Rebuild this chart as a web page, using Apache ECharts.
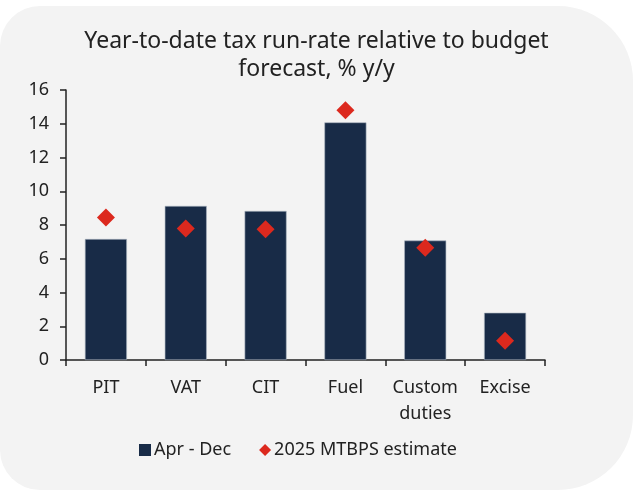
<!DOCTYPE html>
<html>
<head>
<meta charset="utf-8">
<script src="https://cdn.jsdelivr.net/npm/echarts@6/dist/echarts.min.js"></script>
<style>
  html, body { margin: 0; padding: 0; background: #fff; }
  #panel {
    position: absolute; left: 0; top: 6px; width: 633px; height: 484px;
    background: #f3f3f3; border-radius: 40px 75px 75px 40px;
  }
  #chart { position: absolute; left: 0; top: 0; width: 633px; height: 492px; }
</style>
</head>
<body>
<div id="panel"></div>
<div id="chart"></div>
<script>
const categories = ['PIT', 'VAT', 'CIT', 'Fuel', 'Custom\nduties', 'Excise']
const aprDec = [7.17, 9.13, 8.83, 14.08, 7.08, 2.8]
const mtbps = [8.45, 7.8, 7.75, 14.8, 6.65, 1.14]
const yTicks = { min: 0, max: 16, interval: 2 }

const c = echarts.init(document.getElementById('chart'))
c.setOption({
  backgroundColor: 'transparent',
  textStyle: { fontFamily: 'Noto Sans', color: '#222' },
  title: {
    text: 'Year-to-date tax run-rate relative to budget\nforecast, % y/y',
    left: 'center',
    top: 22,
    textStyle: { fontSize: 23, fontWeight: 'normal', color: '#222', lineHeight: 28, fontFamily: 'Noto Sans' }
  },
  legend: {
    bottom: 28,
    left: 134,
    itemGap: 28,
    itemWidth: 12,
    itemHeight: 12,
    itemStyle: { borderWidth: 0 },
    textStyle: { fontSize: 18, color: '#222', padding: [0, 0, 0, -2] },
    data: [
      { name: 'Apr - Dec', icon: 'rect' },
      { name: '2025 MTBPS estimate', icon: 'diamond' }
    ]
  },
  grid: { left: 66, right: 88, top: 90, bottom: 132 },
  xAxis: {
    type: 'category',
    data: categories,
    axisLine: { lineStyle: { color: '#222', width: 1.5 } },
    axisTick: { show: true, length: 6, lineStyle: { color: '#222', width: 1.5 } },
    axisLabel: { fontSize: 18, color: '#222', margin: 15, lineHeight: 26, interval: 0 }
  },
  yAxis: {
    type: 'value',
    min: yTicks.min,
    max: yTicks.max,
    interval: yTicks.interval,
    splitLine: { show: false },
    axisLine: { show: true, lineStyle: { color: '#222', width: 1.5 } },
    axisTick: { show: true, length: 6, lineStyle: { color: '#222', width: 1.5 } },
    axisLabel: { fontSize: 18, color: '#222', margin: 17 }
  },
  series: [
    {
      name: 'Apr - Dec',
      type: 'bar',
      data: aprDec,
      barWidth: 42,
      itemStyle: { color: '#182b47', borderColor: '#a9b3c0', borderWidth: 0.6 }
    },
    {
      name: '2025 MTBPS estimate',
      type: 'scatter',
      data: mtbps,
      symbol: 'diamond',
      symbolSize: 18,
      itemStyle: { color: '#dc291e', opacity: 1 }
    }
  ]
})
</script>
</body>
</html>
